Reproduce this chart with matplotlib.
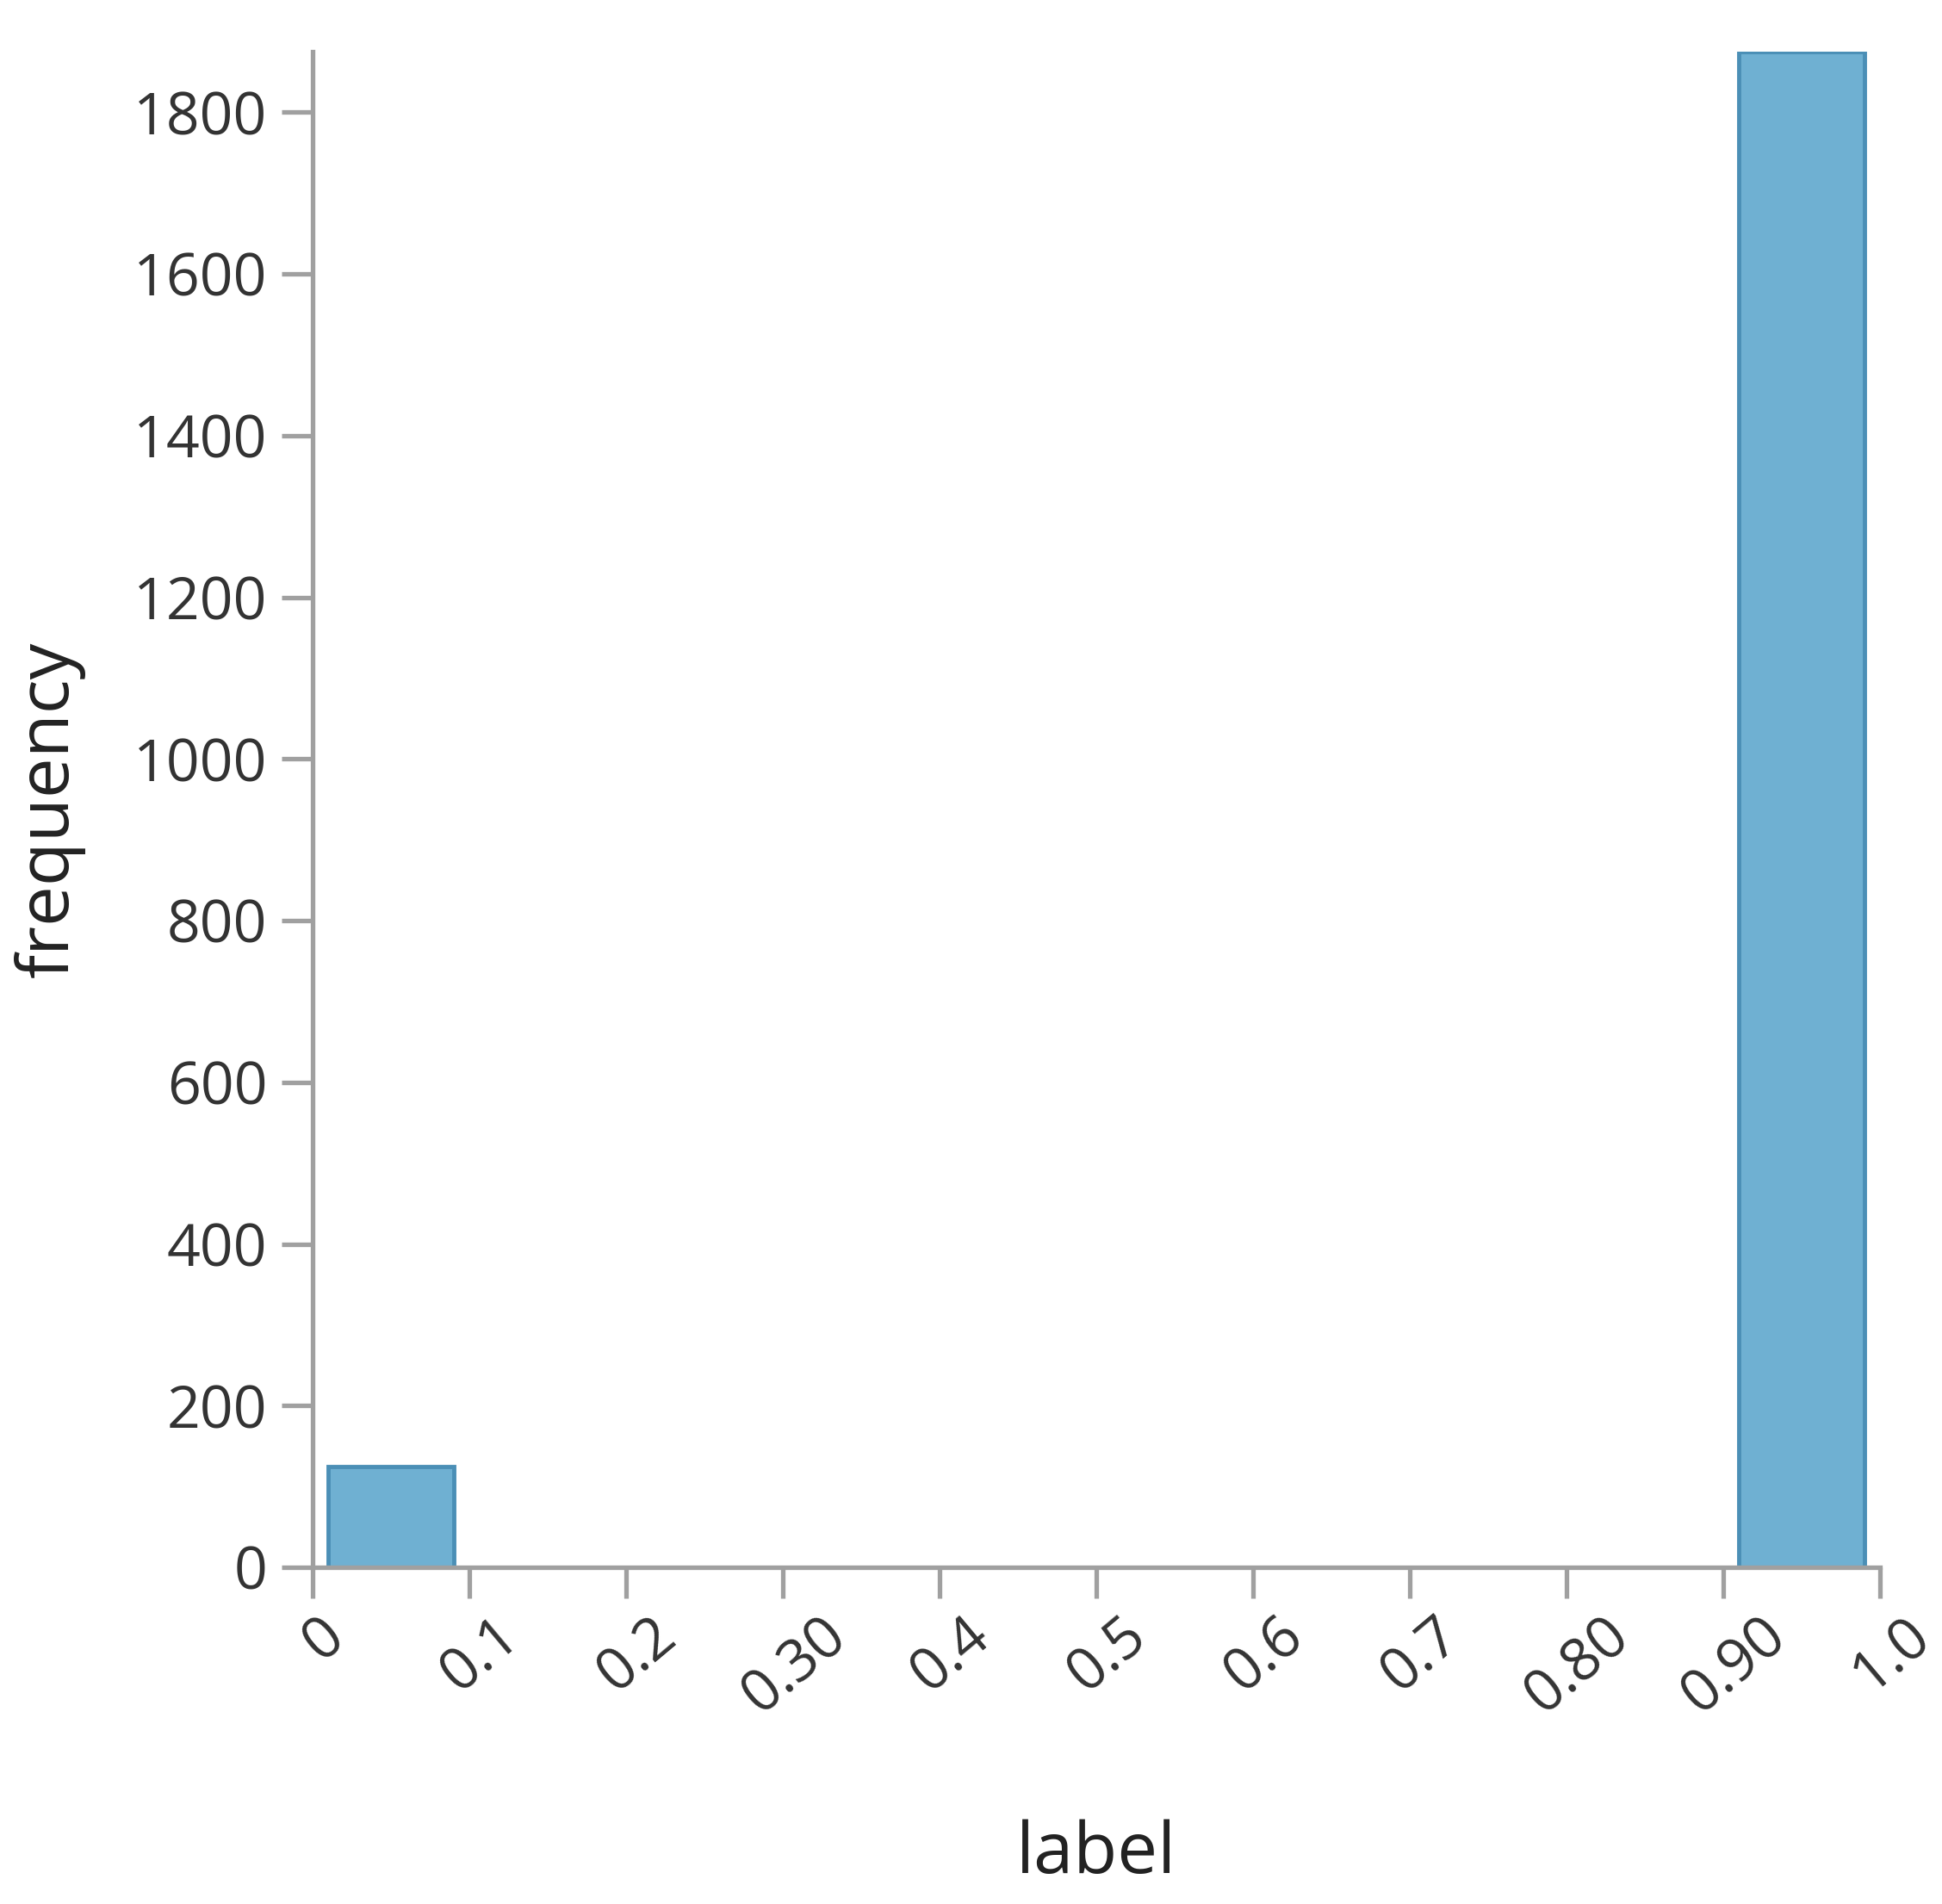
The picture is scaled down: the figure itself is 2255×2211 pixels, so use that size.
import numpy as np
import matplotlib
matplotlib.use("Agg")
import matplotlib.pyplot as plt
from matplotlib.transforms import ScaledTranslation

plt.rcParams['font.family'] = ['Open Sans', 'DejaVu Sans']

# histogram of "label": bin edges and counts
bin_edges = [0.0, 0.1, 0.2, 0.3, 0.4, 0.5, 0.6, 0.7, 0.8, 0.9, 1.0]
counts = [125, 0, 0, 0, 0, 0, 0, 0, 0, 1875]
tick_labels = ["0", "0.1", "0.2", "0.30", "0.4", "0.5", "0.6", "0.7", "0.80", "0.90", "1.0"]
y_ticks = [0, 200, 400, 600, 800, 1000, 1200, 1400, 1600, 1800]

axis_col = '#a0a0a0'
fill_col = '#6fb0d2'
edge_col = '#4b8fb6'

fig = plt.figure(figsize=(22.55, 22.11), dpi=100)
ax = fig.add_axes([0.161, 0.1768, 0.807, 0.7961])

edges = np.array(bin_edges)
cnt = np.array(counts)
centers = (edges[:-1] + edges[1:]) / 2
keep = cnt > 0
ax.bar(centers[keep], cnt[keep], width=0.08, color=fill_col,
       edgecolor=edge_col, linewidth=3.5, zorder=1)

ax.set_xlim(0, 1)
ax.set_ylim(0, max(counts))

for s in ['top', 'right']:
    ax.spines[s].set_visible(False)
for s in ['left', 'bottom']:
    ax.spines[s].set_color(axis_col)
    ax.spines[s].set_linewidth(3.8)
    ax.spines[s].set_zorder(3)

ax.set_xticks(bin_edges)
ax.set_xticklabels(tick_labels, rotation=40, ha='center', va='top')
ax.set_yticks(y_ticks)
ax.tick_params(axis='both', length=26, width=3.8, color=axis_col,
               labelsize=49, labelcolor='#333333', pad=12)
ax.tick_params(axis='x', pad=7)

# nudge the slanted x labels a little to the right, as in the original
shift = ScaledTranslation(10 / 72, 0, fig.dpi_scale_trans)
for lab in ax.get_xticklabels():
    lab.set_transform(lab.get_transform() + shift)

ax.set_xlabel('label', fontsize=60, color='#222222', labelpad=78)
ax.set_ylabel('frequency', fontsize=60, color='#222222', labelpad=40)

fig.savefig('out.png', dpi=100, facecolor='white')
